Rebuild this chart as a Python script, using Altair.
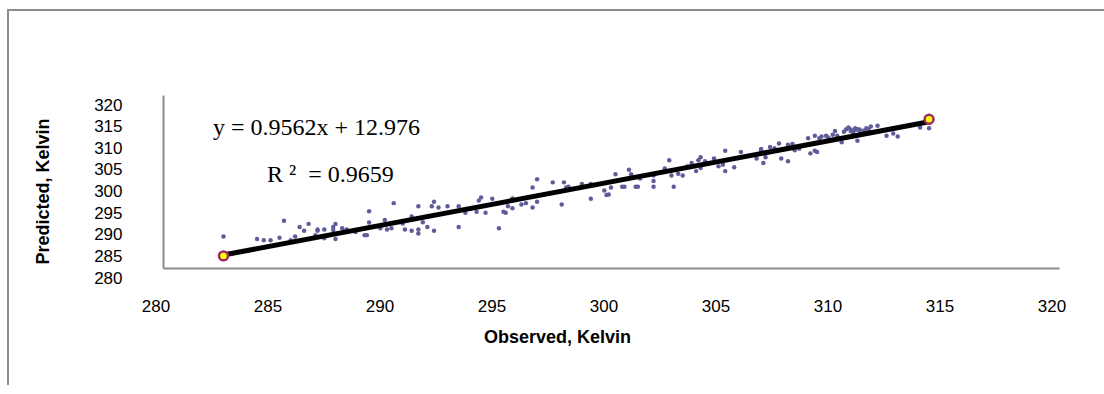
import altair as alt
import pandas as pd

# Observed (x) and predicted (y) temperatures, Kelvin
observed = [
    282.7, 284.2, 284.5, 284.8, 285.2, 285.4, 285.7, 285.9, 286.1, 286.3, 286.5, 286.8,
    286.9, 286.9, 287.2, 287.2, 287.6, 287.6, 287.7, 287.7, 288.0, 288.2, 288.6,
    289.0, 289.1, 289.2, 289.2, 289.7, 289.9, 290.0, 290.2, 290.3, 290.7, 290.8, 291.1,
    291.1, 291.4, 291.4, 291.4, 291.6, 291.8, 292.0, 292.1, 292.1, 292.3, 292.7, 293.2,
    293.2, 293.5, 294.0, 294.1, 294.2, 294.4, 294.7, 295.0, 295.2, 295.3, 295.4,
    295.6, 295.6, 296.0, 296.2, 296.5, 296.5, 296.7, 296.7, 297.4, 297.8, 297.9, 298.0,
    298.1, 298.7, 299.1, 299.1, 299.7, 299.8, 299.9, 300.0, 300.2, 300.5, 300.6, 300.8,
    300.9, 301.1, 301.2, 301.3, 301.9, 301.9,
    301.9, 302.4, 302.6, 302.7, 302.8, 303.0, 303.2, 303.4, 303.6, 303.8, 303.9, 304.0,
    304.2, 304.0, 304.6, 304.8, 305.0, 305.1, 305.1, 305.5, 305.8, 306.5, 306.7, 306.7,
    306.8, 306.9, 307.1, 307.3, 307.5, 307.6, 307.9, 307.9, 308.1, 308.2, 308.4,
    308.8, 308.9, 309.1, 309.1, 309.2, 309.3, 309.4, 309.6, 309.7, 309.9, 310.0, 310.1,
    310.3, 310.4, 310.5, 310.6, 310.7, 310.8, 310.9, 311.0, 311.0, 311.1, 311.2, 311.4,
    311.5, 311.6, 311.9, 312.3, 312.6, 312.8, 313.8, 314.2,
    310.9, 311.1, 311.3, 310.7,
]
predicted = [
    287.3, 286.7, 286.4, 286.4, 287.0, 290.9, 286.4, 287.3, 289.5, 288.6, 290.2, 287.6,
    288.6, 288.9, 288.9, 286.9, 289.5, 288.8, 290.2, 286.7, 289.2, 288.9, 288.3,
    287.6, 287.6, 293.1, 290.5, 289.2, 291.1, 288.9, 289.2, 295.0, 290.3, 288.9, 291.9,
    288.6, 294.3, 288.9, 288.0, 290.6, 289.5, 294.3, 295.3, 288.6, 294.0, 294.3, 294.3,
    289.5, 292.8, 293.0, 295.6, 296.3, 292.8, 296.0, 289.2, 293.0, 292.8, 294.3,
    293.8, 296.1, 294.7, 295.0, 298.6, 294.0, 300.5, 295.3, 299.8, 294.7, 299.8, 298.6,
    298.8, 299.4, 299.4, 296.0, 297.9, 296.9, 297.0, 298.6, 301.7, 298.8, 298.8, 302.7,
    301.7, 298.8, 298.8, 300.7, 300.1, 298.8,
    301.4, 303.0, 304.9, 301.4, 298.8, 301.8, 301.4, 303.5, 304.3, 302.4, 304.9, 305.6,
    304.7, 303.1, 305.3, 303.5, 303.9, 307.1, 302.4, 303.3, 306.8, 305.3, 307.5, 307.2,
    304.3, 305.6, 308.0, 307.7, 308.8, 305.3, 304.7, 308.5, 308.7, 307.2, 307.6,
    310.0, 306.5, 310.6, 307.1, 306.8, 310.0, 310.4, 310.6, 310.2, 310.8, 311.7, 310.6,
    309.1, 311.5, 312.1, 312.5, 311.7, 311.4, 311.9, 312.1, 309.4, 311.7, 311.0, 312.3,
    312.1, 312.7, 312.9, 310.6, 311.1, 310.4, 312.5, 312.3,
    312.3, 312.0, 311.8, 312.0,
]

# Trendline ends and highlighted extreme points
trend_obs = [282.7, 314.2]
trend_pred = [283.0, 313.8]
highlight_obs = [282.7, 314.2]
highlight_pred = [282.8, 314.4]

ticks = [280, 285, 290, 295, 300, 305, 310, 315, 320]
equation_text = ["y = 0.9562x + 12.976"]
r2_text = ["R\u00a0\u00b2\u00a0\u00a0=\u00a00.9659"]
x_title = "Observed, Kelvin"
y_title = "Predicted, Kelvin"

df = pd.DataFrame({"obs": observed, "pred": predicted})
trend_df = pd.DataFrame({"obs": trend_obs, "pred": trend_pred})
hl_df = pd.DataFrame({"obs": highlight_obs, "pred": highlight_pred})

AX = "#8c8c8c"
SANS = "Liberation Sans"
SERIF = "Liberation Serif"

x_scale = alt.Scale(domain=[280, 320], nice=False, zero=False)
y_scale = alt.Scale(domain=[280, 320], nice=False, zero=False)

x_axis = alt.Axis(
    values=ticks, tickCount=20, format="d", grid=False, ticks=False, tickSize=0,
    domainColor=AX, domainWidth=2,
    labelFont=SANS, labelFontSize=17, labelColor="black",
    labelPadding=30, labelOffset=-7.5, labelFlush=False, labelOverlap=False,
    title=x_title, titleFont=SANS, titleFontSize=18, titleFontWeight="bold",
    titleColor="black", titleX=394, titleY=69, titleAlign="center",
    titleBaseline="middle",
)
y_axis = alt.Axis(
    values=ticks, tickCount=20, format="d", grid=False, ticks=False, tickSize=0,
    domainColor=AX, domainWidth=2,
    labelFont=SANS, labelFontSize=17, labelColor="black",
    labelPadding=41, labelOffset=10, labelFlush=False, labelOverlap=False,
    title=y_title, titleFont=SANS, titleFontSize=18, titleFontWeight="bold",
    titleColor="black", titleX=-120, titleY=96, titleAngle=270,
    titleAlign="center", titleBaseline="middle",
)

points = alt.Chart(df).mark_circle(size=20, color="#5f5d99", opacity=1).encode(
    x=alt.X("obs:Q", scale=x_scale, axis=x_axis),
    y=alt.Y("pred:Q", scale=y_scale, axis=y_axis),
)

trend = alt.Chart(trend_df).mark_line(color="black", strokeWidth=5).encode(
    x=alt.X("obs:Q", scale=x_scale),
    y=alt.Y("pred:Q", scale=y_scale),
)

highlight = alt.Chart(hl_df).mark_point(
    shape="circle", size=80, filled=False, fill="#ffff00", fillOpacity=1,
    stroke="#9b2d5f", strokeWidth=2.5, opacity=1,
).encode(
    x=alt.X("obs:Q", scale=x_scale),
    y=alt.Y("pred:Q", scale=y_scale),
)

eq = alt.Chart(pd.DataFrame({"t": equation_text})).mark_text(
    font=SERIF, fontSize=24, color="black", align="left", baseline="alphabetic"
).encode(x=alt.value(50), y=alt.value(40), text="t:N")

r2 = alt.Chart(pd.DataFrame({"t": r2_text})).mark_text(
    font=SERIF, fontSize=24, color="black", align="left", baseline="alphabetic"
).encode(x=alt.value(104), y=alt.value(87), text="t:N")

frame_df = pd.DataFrame({"a": [0]})
top_border = alt.Chart(frame_df).mark_rule(color=AX, strokeWidth=2).encode(
    x=alt.value(-155), x2=alt.value(941), y=alt.value(-85)
)
left_border = alt.Chart(frame_df).mark_rule(color=AX, strokeWidth=2).encode(
    x=alt.value(-155), y=alt.value(-86), y2=alt.value(290)
)

chart = alt.layer(
    top_border, left_border, points, trend, highlight, eq, r2
).properties(
    width=896, height=173,
    autosize=alt.AutoSizeParams(type="none"),
    padding={"left": 163, "top": 95, "right": 45, "bottom": 126},
    background="white",
).configure_view(strokeWidth=0)

chart.save("out.html", embed_options={"renderer": "svg", "actions": False})
